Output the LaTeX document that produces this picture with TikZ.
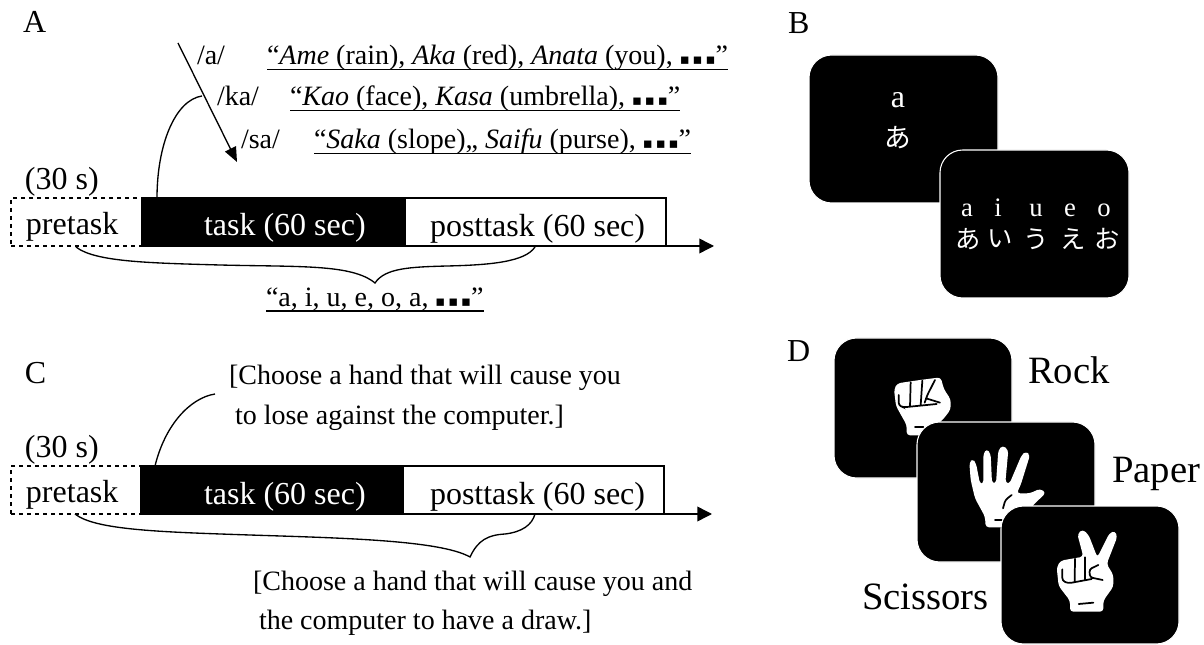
\documentclass[tikz,border=0pt]{standalone}
\usepackage{fontspec}
\setmainfont{Liberation Serif}
\newfontfamily\jpfont{Noto Sans CJK JP}
\newfontfamily\symfont{DejaVu Sans}
\usetikzlibrary{arrows.meta}
\newcommand{\fsz}[1]{\fontsize{#1}{#1}\selectfont}
\newcommand{\tdots}{{\symfont\fsz{11}▪\hspace{2.2pt}▪\hspace{2.2pt}▪}}
\newcommand{\px}{0.75pt}
\tikzset{
  lbl/.style={anchor=base west,inner sep=0pt,outer sep=0pt},
  clbl/.style={anchor=base,inner sep=0pt,outer sep=0pt,text=white},
  jlbl/.style={anchor=center,inner sep=0pt,outer sep=0pt,text=white,font=\jpfont\fsz{#1}},
  big/.style={lbl,font=\fsz{24}},
  mid/.style={lbl,font=\fsz{21}},
  line/.style={line width=1.1pt,black},
  conn/.style={line width=1pt,black},
  ul/.style={line width=0.9pt,black},
  bar/.style={anchor=north west,inner sep=0pt,outer sep=0pt,minimum height=48*\px,line width=1pt},
  cardb/.style={anchor=north west,inner sep=0pt,outer sep=0pt,fill=black,draw=white,line width=0.8pt,rounded corners=17pt,minimum width=#1},
  hand/.style={fill=white,draw=none,rounded corners=2.5pt},
  crease/.style={draw=black,line width=1.3pt,line cap=round,rounded corners=2pt},
  axisarrow/.style={line,-{Triangle[length=11pt,width=11pt]}},
  cuearrow/.style={conn,-{Triangle[length=11pt,width=9pt]}},
}
\begin{document}
\begin{tikzpicture}[x=0.75pt,y=-0.75pt]
\useasboundingbox (0,0) rectangle (1204,645);

% ---------- A ----------
\node[big] (A) at (23,33) {A};
\node[mid] (phA) at (197,65) {/a/};
\node[mid] (phK) at (217,106) {/ka/};
\node[mid] (phS) at (241,149) {/sa/};
\node[mid] (wA) at (267,65) {“\textit{Ame} (rain), \textit{Aka} (red), \textit{Anata} (you), \tdots”};
\node[mid] (wK) at (290,106) {“\textit{Kao} (face), \textit{Kasa} (umbrella), \tdots”};
\node[mid] (wS) at (314,149) {“\textit{Saka} (slope),, \textit{Saifu} (purse), \tdots”};
\foreach \n in {wA,wK,wS}{\draw[ul] ([yshift=-3.2pt]\n.base west) -- ([yshift=-3.2pt]\n.base east);}
\coordinate (cueS) at (178,43);
\coordinate (cueE) at (237,162);
\coordinate (cueM) at (202,96);
\draw[cuearrow] (cueS) -- (cueE);
\node[big] (sA) at (25,190) {(30 s)};
\node[bar,draw=black,dashed,minimum width=131*\px] (preA) at (11,198) {};
\node[bar,draw=black,minimum width=261*\px] (postA) at (405,198) {};
\node[bar,draw=black,fill=black,minimum width=263*\px] (taskA) at (142,198) {};
\coordinate (endA) at (714,246);
\draw[axisarrow] (postA.south west) -- (endA);
\node[big] (preTA) at (26,235) {pretask};
\node[big,text=white] (taskTA) at (204,236) {task (60 sec)};
\node[big] (postTA) at (430,237) {posttask (60 sec)};
\coordinate (cA) at (157,198);
\draw[conn] (cA) .. controls (157,145) and (175,100) .. (cueM);
\coordinate (brAl) at (76,247);
\coordinate (brAc) at (375,283);
\coordinate (brAr) at (535,247);
\draw[conn] (brAl) .. controls (95,262) and (150,263) .. (220,265)
  .. controls (300,267) and (352,264) .. (brAc)
  .. controls (385,268) and (410,267) .. (447,266)
  .. controls (490,265) and (525,262) .. (brAr);
\node[mid] (seqA) at (266,307) {“a, i, u, e, o, a, \tdots”};
\draw[ul] ([yshift=-3pt]seqA.base west) -- ([yshift=-3pt]seqA.base east);

% ---------- B ----------
\node[big] (B) at (788,34) {B};
\node[cardb=189*\px,minimum height=148*\px] (cardB1) at (809,55) {};
\node[clbl,font=\fsz{24}] (b1a) at (898,108) {a};
\node[jlbl=20] (b1h) at (898,138) {あ};
\node[cardb=189*\px,minimum height=148*\px] (cardB2) at (940,150) {};
\node[clbl,font=\fsz{20}] at (967,217) (b2a) {a};
\node[clbl,font=\fsz{20}] at (998,217) (b2i) {i};
\node[clbl,font=\fsz{20}] at (1036,217) (b2u) {u};
\node[clbl,font=\fsz{20}] at (1070,217) (b2e) {e};
\node[clbl,font=\fsz{20}] at (1104,217) (b2o) {o};
\node[jlbl=19] at (968,239) (h2a) {あ};
\node[jlbl=19] at (1000,239) (h2i) {い};
\node[jlbl=19] at (1036,239) (h2u) {う};
\node[jlbl=19] at (1073,239) (h2e) {え};
\node[jlbl=19] at (1107,239) (h2o) {お};

% ---------- C ----------
\node[big] (C) at (25,383) {C};
\node[big] (sC) at (25,457) {(30 s)};
\node[mid] (cue1) at (229,385) {[Choose a hand that will cause you};
\node[mid] (cue2) at (235,425) {to lose against the computer.]};
\node[bar,draw=black,dashed,minimum width=130*\px] (preC) at (11,466) {};
\node[bar,draw=black,minimum width=261*\px] (postC) at (403,466) {};
\node[bar,draw=black,fill=black,minimum width=262*\px] (taskC) at (141,466) {};
\coordinate (endC) at (712,514);
\draw[axisarrow] (postC.south west) -- (endC);
\node[big] (preTC) at (26,502) {pretask};
\node[big,text=white] (taskTC) at (204,504) {task (60 sec)};
\node[big] (postTC) at (430,504) {posttask (60 sec)};
\coordinate (cC) at (155,466);
\coordinate (cCe) at (215,394);
\draw[conn] (cC) .. controls (165,425) and (190,398) .. (cCe);
\coordinate (brCl) at (75,514);
\coordinate (brCc) at (470,557);
\coordinate (brCr) at (535,514);
\draw[conn] (brCl) .. controls (95,530) and (160,532) .. (250,535)
  .. controls (340,538) and (440,540) .. (brCc)
  .. controls (478,540) and (488,535) .. (505,534)
  .. controls (522,532) and (532,525) .. (brCr);
\node[mid] (cue3) at (253,590) {[Choose a hand that will cause you and};
\node[mid] (cue4) at (259,629) {the computer to have a draw.]};

% ---------- D ----------
\node[big] (D) at (787,362) {D};
\node[lbl,font=\fsz{29}] (rock) at (1028,383) {Rock};
\node[lbl,font=\fsz{29}] (paper) at (1112,483) {Paper};
\node[lbl,font=\fsz{29}] (scis) at (862,609) {Scissors};
\node[cardb=178*\px,minimum height=140*\px] (cardR) at (834,338) {};
\begin{scope}[shift={(820,330)},x=0.25pt,y=-0.25pt]
  \path[hand] (260,316) -- (260,285) -- (228,228) -- (222,178) -- (232,160) -- (300,150) -- (362,142) -- (372,178) -- (392,208) -- (392,238) -- (372,265) -- (345,290) -- (345,316) -- cycle;
  \draw[crease] (236,195) -- (236,226) -- (250,232) -- (350,222) (272,157) -- (270,230) (307,152) -- (302,226) (345,150) -- (322,195) -- (314,218) (318,205) -- (360,218);
  \draw[crease] (285,292) -- (310,292);
\end{scope}
\node[cardb=178*\px,minimum height=140*\px] (cardP) at (917,422) {};
\begin{scope}[shift={(820,330)},x=0.25pt,y=-0.25pt]
  \path[hand] (497,592) -- (495,560) -- (465,505) -- (452,450) -- (448,398) -- (458,386) -- (468,400) -- (480,462) -- (490,462) -- (490,372) -- (500,356) -- (512,372) -- (516,460) -- (528,460) -- (535,360) -- (548,346) -- (565,360) -- (556,458) -- (568,462) -- (605,375) -- (618,364) -- (630,375) -- (602,465) -- (590,490) -- (630,490) -- (660,476) -- (678,488) -- (640,525) -- (600,575) -- (590,592) -- cycle;
  \draw[crease] (575,495) -- (556,510) -- (549,535) (525,570) -- (545,570);
\end{scope}
\node[cardb=178*\px,minimum height=138*\px] (cardS) at (1001,506) {};
\begin{scope}[shift={(820,330)},x=0.25pt,y=-0.25pt]
  \path[hand] (750,845) -- (750,812) -- (716,768) -- (710,712) -- (722,692) -- (790,680) -- (772,612) -- (788,598) -- (806,615) -- (832,682) -- (868,610) -- (885,602) -- (892,620) -- (860,702) -- (880,735) -- (880,770) -- (850,812) -- (850,845) -- cycle;
  \draw[crease] (727,718) -- (727,752) -- (745,760) -- (815,747) (765,686) -- (764,756) (795,682) -- (795,748) (835,705) -- (808,718) -- (810,742) -- (848,750);
  \draw[crease] (776,822) -- (820,818);
\end{scope}
\end{tikzpicture}
\end{document}
